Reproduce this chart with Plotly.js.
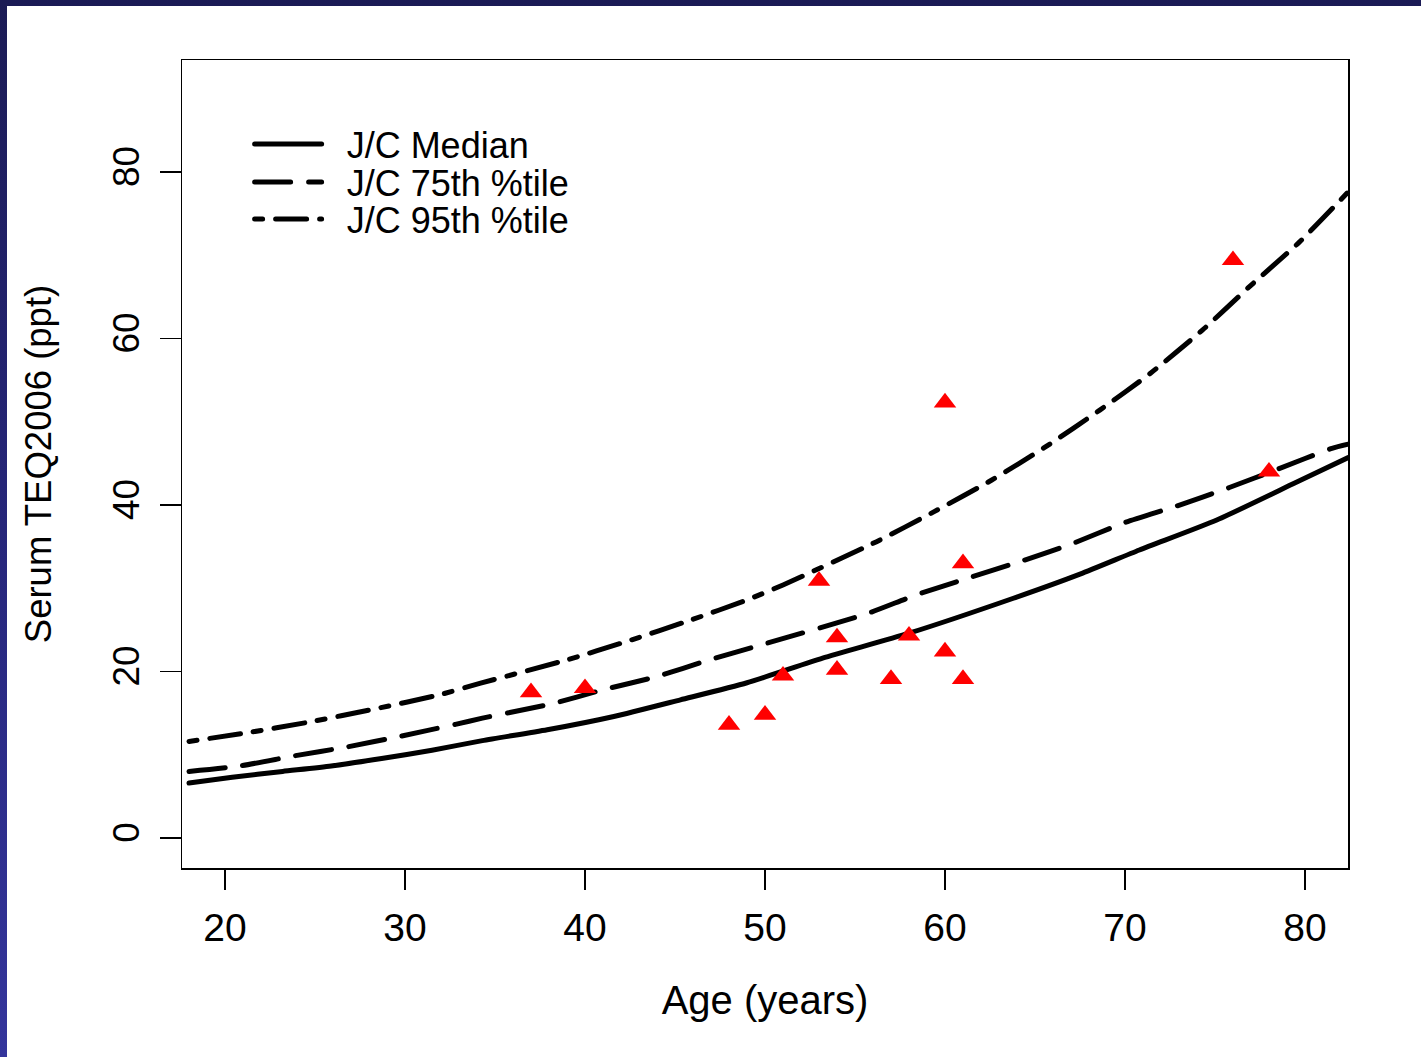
<!DOCTYPE html>
<html>
<head>
<meta charset="utf-8">
<script src="https://cdn.plot.ly/plotly-3.0.1.min.js"></script>
<style>
  html, body { margin: 0; padding: 0; width: 1421px; height: 1057px; overflow: hidden; }
  body { background: linear-gradient(to bottom, #1b1b55 0%, #26267a 50%, #34359c 100%); position: relative; }
  #chart { position: absolute; left: 7px; top: 6px; width: 1414px; height: 1051px; background: #ffffff; }
  #chart path.js-line { stroke-linecap: round; stroke-linejoin: round; }
</style>
</head>
<body>
<div id="chart"></div>
<script>
// Median curve (solid)
const medianAge = [18, 20.4, 23.2, 25.9, 28.7, 31.5, 34.3, 37.9, 41.6, 45.3, 49, 53.2, 58, 63.8, 67.5, 70.8, 75.1, 79.4, 82.4];
const medianTEQ = [6.6, 7.3, 8.0, 8.65, 9.55, 10.55, 11.7, 13.0, 14.6, 16.6, 18.65, 21.6, 24.6, 28.8, 31.7, 34.6, 38.2, 42.6, 45.7];

// 75th percentile curve
const p75Age = [18, 20.8, 23.8, 26.8, 29.8, 32.8, 34.3, 38.1, 41, 44, 46.9, 49.8, 55.6, 58.4, 61.4, 64.3, 67, 70, 72.9, 75.8, 78.6, 81.5, 82.4];
const p75TEQ = [8.0, 8.65, 9.85, 10.95, 12.25, 13.65, 14.4, 16.1, 17.8, 19.4, 21.4, 23.2, 26.9, 29.2, 31.3, 33.3, 35.3, 37.9, 39.9, 42.1, 44.4, 46.8, 47.3];

// 95th percentile curve
const p95Age = [18, 21.1, 24.6, 28.3, 31.9, 34.2, 39, 42.3, 45.9, 49, 51, 56.2, 59.4, 62.6, 65.6, 68.6, 71.4, 74.3, 76.9, 79.7, 82.4];
const p95TEQ = [11.6, 12.6, 13.9, 15.5, 17.2, 18.6, 21.4, 23.6, 26.2, 28.6, 30.4, 35.6, 39.2, 43.0, 47.0, 51.4, 55.8, 61.0, 66.2, 71.6, 77.6];

// Observed individuals (red triangles)
const ptAge = [37, 40, 48, 50, 51, 53, 54, 54, 57, 58, 60, 60, 61, 61, 76, 78];
const ptTEQ = [17.5, 18.0, 13.6, 14.8, 19.5, 30.9, 24.1, 20.2, 19.1, 24.3, 52.3, 22.4, 33.0, 19.1, 69.4, 44.0];

// Tick labels
const xTicks = [20, 30, 40, 50, 60, 70, 80];
const yTicks = [0, 20, 40, 60, 80];

// Series names
const seriesNames = ["J/C Median", "J/C 75th %tile", "J/C 95th %tile"];

const FONT = "Liberation Sans, Arial, Helvetica, sans-serif";
const pad = "\u00a0\u00a0";

const traces = [
  {
    x: medianAge, y: medianTEQ, type: "scatter", mode: "lines", name: pad + seriesNames[0],
    line: { color: "#000000", width: 5, shape: "spline", smoothing: 0.6 },
    legend: "legend", hoverinfo: "skip"
  },
  {
    x: p75Age, y: p75TEQ, type: "scatter", mode: "lines", name: pad + seriesNames[1],
    line: { color: "#000000", width: 5, dash: "36px,18px", shape: "spline", smoothing: 0.6 },
    legend: "legend2", hoverinfo: "skip"
  },
  {
    x: p95Age, y: p95TEQ, type: "scatter", mode: "lines", name: pad + seriesNames[2],
    line: { color: "#000000", width: 5, dash: "8px,13px,31px,13px", shape: "spline", smoothing: 0.6 },
    legend: "legend3", hoverinfo: "skip"
  },
  {
    x: ptAge, y: ptTEQ, type: "scatter", mode: "markers", name: "Observed",
    marker: { symbol: "triangle-up", size: 19.5, color: "#ff0000", line: { width: 0 } },
    showlegend: false, hoverinfo: "skip"
  }
];

function legendAt(yy) {
  return {
    x: 0.058, y: yy, xanchor: "left", yanchor: "middle",
    bgcolor: "rgba(0,0,0,0)", borderwidth: 0,
    font: { family: FONT, size: 36, color: "#000000" },
    itemwidth: 67, itemclick: false, itemdoubleclick: false
  };
}

const layout = {
  width: 1414, height: 1051,
  margin: { l: 175, r: 73, t: 54, b: 189 },
  paper_bgcolor: "#ffffff", plot_bgcolor: "#ffffff",
  font: { family: FONT, color: "#000000" },
  showlegend: true,
  legend: legendAt(0.8958),
  legend2: legendAt(0.8488),
  legend3: legendAt(0.803),
  xaxis: {
    range: [17.61, 82.39], tickvals: xTicks, ticktext: xTicks.map(String),
    ticks: "outside", ticklen: 20, tickwidth: 1.5, tickcolor: "#000000",
    showline: true, mirror: true, linecolor: "#000000", linewidth: 1.5,
    showgrid: false, zeroline: false, ticklabelstandoff: 5,
    tickfont: { family: FONT, size: 39, color: "#000000" },
    title: { text: "Age (years)", font: { family: FONT, size: 40, color: "#000000" }, standoff: 37 },
    automargin: false
  },
  yaxis: {
    range: [-3.6, 93.45], tickvals: yTicks, ticktext: yTicks.map(String),
    ticks: "outside", ticklen: 21, tickwidth: 1.5, tickcolor: "#000000",
    showline: true, mirror: true, linecolor: "#000000", linewidth: 1.5,
    showgrid: false, zeroline: false, tickangle: -90, ticklabelstandoff: 6,
    tickfont: { family: FONT, size: 37, color: "#000000" },
    title: { text: "Serum TEQ2006 (ppt)", font: { family: FONT, size: 36.5, color: "#000000" }, standoff: 43 },
    automargin: false
  }
};

Plotly.newPlot("chart", traces, layout, { displayModeBar: false, staticPlot: true });
</script>
</body>
</html>
